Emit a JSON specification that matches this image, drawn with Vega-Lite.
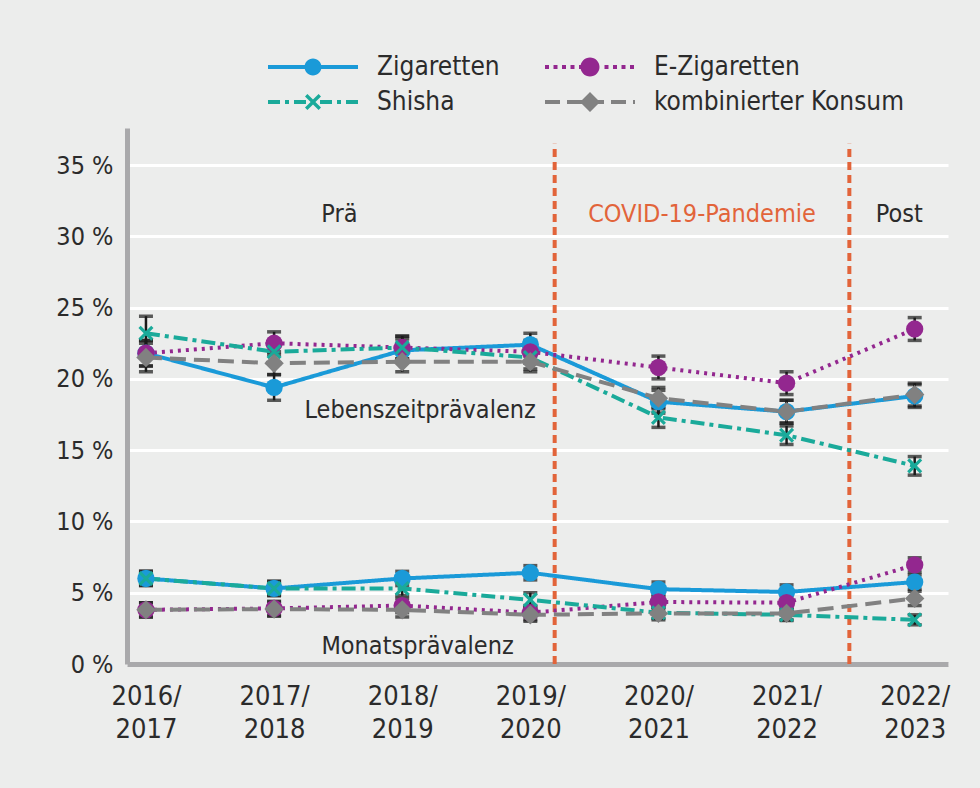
{
  "$schema": "https://vega.github.io/schema/vega-lite/v6.json",
  "width": 821,
  "height": 536,
  "autosize": {"type": "none"},
  "padding": {"left": 127, "top": 128, "right": 32, "bottom": 124},
  "background": "#ecedec",
  "config": {
    "font": "Liberation Sans Narrow, DejaVu Sans Condensed, Roboto, sans-serif",
    "view": {"stroke": null},
    "axis": {"labelColor": "#2b2b2b", "domainColor": "#a9a9ab", "domainWidth": 5, "ticks": false}
  },
  "datasets": {
    "d": [
      {"i": 0, "s": "Zigaretten", "t": "L", "v": 21.8, "lo": 20.9, "hi": 22.7},
      {"i": 1, "s": "Zigaretten", "t": "L", "v": 19.4, "lo": 18.5, "hi": 20.3},
      {"i": 2, "s": "Zigaretten", "t": "L", "v": 22.0, "lo": 21.2, "hi": 22.8},
      {"i": 3, "s": "Zigaretten", "t": "L", "v": 22.4, "lo": 21.6, "hi": 23.2},
      {"i": 4, "s": "Zigaretten", "t": "L", "v": 18.4, "lo": 17.6, "hi": 19.2},
      {"i": 5, "s": "Zigaretten", "t": "L", "v": 17.7, "lo": 16.9, "hi": 18.5},
      {"i": 6, "s": "Zigaretten", "t": "L", "v": 18.8, "lo": 18.0, "hi": 19.6},
      {"i": 0, "s": "E-Zigaretten", "t": "L", "v": 21.8, "lo": 20.9, "hi": 22.7},
      {"i": 1, "s": "E-Zigaretten", "t": "L", "v": 22.5, "lo": 21.7, "hi": 23.3},
      {"i": 2, "s": "E-Zigaretten", "t": "L", "v": 22.2, "lo": 21.4, "hi": 23.0},
      {"i": 3, "s": "E-Zigaretten", "t": "L", "v": 21.9, "lo": 21.1, "hi": 22.7},
      {"i": 4, "s": "E-Zigaretten", "t": "L", "v": 20.8, "lo": 20.0, "hi": 21.6},
      {"i": 5, "s": "E-Zigaretten", "t": "L", "v": 19.7, "lo": 18.9, "hi": 20.5},
      {"i": 6, "s": "E-Zigaretten", "t": "L", "v": 23.5, "lo": 22.7, "hi": 24.3},
      {"i": 0, "s": "Shisha", "t": "L", "v": 23.2, "lo": 22.0, "hi": 24.4},
      {"i": 1, "s": "Shisha", "t": "L", "v": 21.9, "lo": 21.1, "hi": 22.7},
      {"i": 2, "s": "Shisha", "t": "L", "v": 22.2, "lo": 21.4, "hi": 23.0},
      {"i": 3, "s": "Shisha", "t": "L", "v": 21.5, "lo": 20.7, "hi": 22.3},
      {"i": 4, "s": "Shisha", "t": "L", "v": 17.3, "lo": 16.6, "hi": 18.0},
      {"i": 5, "s": "Shisha", "t": "L", "v": 16.05, "lo": 15.4, "hi": 16.7},
      {"i": 6, "s": "Shisha", "t": "L", "v": 13.9, "lo": 13.25, "hi": 14.55},
      {"i": 0, "s": "kombinierter Konsum", "t": "L", "v": 21.5, "lo": 20.5, "hi": 22.5},
      {"i": 1, "s": "kombinierter Konsum", "t": "L", "v": 21.1, "lo": 20.3, "hi": 21.9},
      {"i": 2, "s": "kombinierter Konsum", "t": "L", "v": 21.2, "lo": 20.5, "hi": 21.9},
      {"i": 3, "s": "kombinierter Konsum", "t": "L", "v": 21.2, "lo": 20.5, "hi": 21.9},
      {"i": 4, "s": "kombinierter Konsum", "t": "L", "v": 18.65, "lo": 17.9, "hi": 19.4},
      {"i": 5, "s": "kombinierter Konsum", "t": "L", "v": 17.7, "lo": 16.9, "hi": 18.5},
      {"i": 6, "s": "kombinierter Konsum", "t": "L", "v": 18.9, "lo": 18.1, "hi": 19.7},
      {"i": 0, "s": "Zigaretten", "t": "M", "v": 6.0, "lo": 5.5, "hi": 6.5},
      {"i": 1, "s": "Zigaretten", "t": "M", "v": 5.3, "lo": 4.8, "hi": 5.8},
      {"i": 2, "s": "Zigaretten", "t": "M", "v": 6.0, "lo": 5.5, "hi": 6.5},
      {"i": 3, "s": "Zigaretten", "t": "M", "v": 6.4, "lo": 5.9, "hi": 6.9},
      {"i": 4, "s": "Zigaretten", "t": "M", "v": 5.25, "lo": 4.75, "hi": 5.75},
      {"i": 5, "s": "Zigaretten", "t": "M", "v": 5.05, "lo": 4.55, "hi": 5.55},
      {"i": 6, "s": "Zigaretten", "t": "M", "v": 5.75, "lo": 5.25, "hi": 6.25},
      {"i": 0, "s": "E-Zigaretten", "t": "M", "v": 3.8, "lo": 3.3, "hi": 4.3},
      {"i": 1, "s": "E-Zigaretten", "t": "M", "v": 3.9, "lo": 3.4, "hi": 4.4},
      {"i": 2, "s": "E-Zigaretten", "t": "M", "v": 4.1, "lo": 3.6, "hi": 4.6},
      {"i": 3, "s": "E-Zigaretten", "t": "M", "v": 3.6, "lo": 3.1, "hi": 4.1},
      {"i": 4, "s": "E-Zigaretten", "t": "M", "v": 4.35, "lo": 3.85, "hi": 4.85},
      {"i": 5, "s": "E-Zigaretten", "t": "M", "v": 4.3, "lo": 3.8, "hi": 4.8},
      {"i": 6, "s": "E-Zigaretten", "t": "M", "v": 6.95, "lo": 6.45, "hi": 7.45},
      {"i": 0, "s": "Shisha", "t": "M", "v": 6.0, "lo": 5.5, "hi": 6.5},
      {"i": 1, "s": "Shisha", "t": "M", "v": 5.3, "lo": 4.8, "hi": 5.8},
      {"i": 2, "s": "Shisha", "t": "M", "v": 5.3, "lo": 4.8, "hi": 5.8},
      {"i": 3, "s": "Shisha", "t": "M", "v": 4.5, "lo": 4.0, "hi": 5.0},
      {"i": 4, "s": "Shisha", "t": "M", "v": 3.6, "lo": 3.2, "hi": 4.0},
      {"i": 5, "s": "Shisha", "t": "M", "v": 3.45, "lo": 3.05, "hi": 3.85},
      {"i": 6, "s": "Shisha", "t": "M", "v": 3.1, "lo": 2.75, "hi": 3.45},
      {"i": 0, "s": "kombinierter Konsum", "t": "M", "v": 3.8, "lo": 3.3, "hi": 4.3},
      {"i": 1, "s": "kombinierter Konsum", "t": "M", "v": 3.85, "lo": 3.35, "hi": 4.35},
      {"i": 2, "s": "kombinierter Konsum", "t": "M", "v": 3.8, "lo": 3.3, "hi": 4.3},
      {"i": 3, "s": "kombinierter Konsum", "t": "M", "v": 3.45, "lo": 3.0, "hi": 3.9},
      {"i": 4, "s": "kombinierter Konsum", "t": "M", "v": 3.55, "lo": 3.1, "hi": 4.0},
      {"i": 5, "s": "kombinierter Konsum", "t": "M", "v": 3.55, "lo": 3.1, "hi": 4.0},
      {"i": 6, "s": "kombinierter Konsum", "t": "M", "v": 4.6, "lo": 4.1, "hi": 5.1}
    ],
    "phases": [{"x": 3.19}, {"x": 5.49}],
    "notes": [
      {"lab": "Prä", "x": 1.51, "y": 31.6, "k": "n"},
      {"lab": "COVID-19-Pandemie", "x": 4.34, "y": 31.6, "k": "c"},
      {"lab": "Post", "x": 5.88, "y": 31.6, "k": "n"},
      {"lab": "Lebenszeitprävalenz", "x": 2.14, "y": 17.8, "k": "n"},
      {"lab": "Monatsprävalenz", "x": 2.12, "y": 1.26, "k": "n"}
    ]
  },
  "layer": [
    {
      "data": {"name": "phases"},
      "mark": {"type": "rule", "color": "#e2643a", "strokeWidth": 4, "strokeDash": [8, 5]},
      "encoding": {
        "x": {"field": "x", "type": "quantitative", "scale": {"domain": [-0.148, 6.26], "nice": false, "zero": false},
          "axis": {"values": [0, 1, 2, 3, 4, 5, 6], "title": null, "grid": false, "labelFontSize": 27, "labelLineHeight": 33, "labelPadding": 19, "labelExpr": "[format(2016 + datum.value, 'd') + '/', format(2017 + datum.value, 'd')]"}},
        "y": {"datum": 0, "type": "quantitative", "scale": {"domain": [0, 37.6], "nice": false},
          "axis": {"values": [0, 5, 10, 15, 20, 25, 30, 35], "title": null, "grid": true, "gridColor": "#ffffff", "gridWidth": 3, "labelFontSize": 25, "labelPadding": 14, "labelExpr": "datum.value + ' %'"}},
        "y2": {"datum": 36.5}
      }
    },
    {
      "data": {"name": "d"},
      "transform": [{"filter": "false"}],
      "mark": {"type": "point", "filled": true, "opacity": 1, "size": 400},
      "encoding": {
        "x": {"field": "i", "type": "quantitative"},
        "y": {"field": "v", "type": "quantitative", "title": null},
        "color": {"field": "s", "type": "nominal",
          "scale": {"domain": ["Zigaretten", "E-Zigaretten", "Shisha", "kombinierter Konsum"], "range": ["#1a9ad8", "#93278f", "#1aaa9a", "#818181"]},
          "legend": {"orient": "none", "legendX": 136, "legendY": -74, "columns": 2, "direction": "horizontal", "title": null, "symbolSize": 400, "symbolStrokeWidth": 0, "symbolOpacity": 1, "labelFontSize": 26, "labelLimit": 500, "labelColor": "#2b2b2b", "labelOffset": 88, "columnPadding": 40, "rowPadding": 9}},
        "shape": {"field": "s", "type": "nominal",
          "legend": {"orient": "none", "legendX": 136, "legendY": -74, "columns": 2, "direction": "horizontal", "title": null, "symbolSize": 400, "symbolStrokeWidth": 0, "symbolOpacity": 1, "labelFontSize": 26, "labelLimit": 500, "labelColor": "#2b2b2b", "labelOffset": 88, "columnPadding": 40, "rowPadding": 9},
          "scale": {"domain": ["Zigaretten", "E-Zigaretten", "Shisha", "kombinierter Konsum"], "range": [
            "M-0.8,-0.2H8.2V0.2H-0.8ZM2.85,0A0.85,0.85 0 1,1 4.55,0A0.85,0.85 0 1,1 2.85,0Z",
            "M-0.8,-0.2h0.4v0.4h-0.4ZM0.05,-0.2h0.4v0.4h-0.4ZM0.9,-0.2h0.4v0.4h-0.4ZM1.75,-0.2h0.4v0.4h-0.4ZM2.6,-0.2h0.4v0.4h-0.4ZM5.15,-0.2h0.4v0.4h-0.4ZM6,-0.2h0.4v0.4h-0.4ZM6.85,-0.2h0.4v0.4h-0.4ZM7.7,-0.2h0.4v0.4h-0.4ZM2.75,0A0.95,0.95 0 1,1 4.65,0A0.95,0.95 0 1,1 2.75,0Z",
            "M-0.8,-0.2H0.4V0.2H-0.8ZM0.9,-0.2H1.3V0.2H0.9ZM1.8,-0.2H3V0.2H1.8ZM4.4,-0.2H5.6V0.2H4.4ZM6.1,-0.2H6.5V0.2H6.1ZM7,-0.2H8.2V0.2H7ZM2.9,-0.56L3.14,-0.8L3.7,-0.24L4.26,-0.8L4.5,-0.56L3.94,0L4.5,0.56L4.26,0.8L3.7,0.24L3.14,0.8L2.9,0.56L3.46,0Z",
            "M-0.8,-0.2H0.7V0.2H-0.8ZM1.4,-0.2H2.9V0.2H1.4ZM4.5,-0.2H5.1V0.2H4.5ZM5.8,-0.2H7.3V0.2H5.8ZM8,-0.2H8.2V0.2H8ZM2.7,0L3.7,-1L4.7,0L3.7,1Z"
          ]}}
      }
    },
    {
      "data": {"name": "notes"},
      "transform": [{"filter": "datum.k === 'n'"}],
      "mark": {"type": "text", "fontSize": 25, "color": "#2b2b2b"},
      "encoding": {
        "x": {"field": "x", "type": "quantitative"},
        "y": {"field": "y", "type": "quantitative"},
        "text": {"field": "lab"}
      }
    },
    {
      "data": {"name": "notes"},
      "transform": [{"filter": "datum.k === 'c'"}],
      "mark": {"type": "text", "fontSize": 25, "color": "#e2643a"},
      "encoding": {
        "x": {"field": "x", "type": "quantitative"},
        "y": {"field": "y", "type": "quantitative"},
        "text": {"field": "lab"}
      }
    },
    {
      "data": {"name": "d"},
      "mark": {"type": "errorbar", "ticks": {"size": 14, "thickness": 3.5, "color": "#1a1a1a"}, "rule": {"strokeWidth": 2.5, "color": "#1a1a1a"}},
      "encoding": {
        "x": {"field": "i", "type": "quantitative"},
        "y": {"field": "lo", "type": "quantitative", "title": null},
        "y2": {"field": "hi"},
        "detail": {"field": "s"}
      }
    },
    {
      "data": {"name": "d"},
      "mark": {"type": "line", "strokeWidth": 4, "strokeCap": "butt"},
      "encoding": {
        "x": {"field": "i", "type": "quantitative"},
        "y": {"field": "v", "type": "quantitative", "title": null},
        "detail": {"field": "t"},
        "color": {"field": "s", "type": "nominal"},
        "strokeDash": {"field": "s", "type": "nominal", "legend": null,
          "scale": {"domain": ["Zigaretten", "E-Zigaretten", "Shisha", "kombinierter Konsum"], "range": [[1, 0], [3, 5], [14, 5, 4, 5], [16, 8]]}}
      }
    },
    {
      "data": {"name": "d"},
      "transform": [{"filter": "datum.s === 'Zigaretten' || datum.s === 'E-Zigaretten'"}],
      "mark": {"type": "point", "filled": true, "opacity": 1, "size": 300, "shape": "circle"},
      "encoding": {
        "x": {"field": "i", "type": "quantitative"},
        "y": {"field": "v", "type": "quantitative", "title": null},
        "color": {"field": "s", "type": "nominal"}
      }
    },
    {
      "data": {"name": "d"},
      "transform": [{"filter": "datum.s === 'Shisha'"}],
      "mark": {"type": "point", "filled": true, "opacity": 1, "size": 300, "shape": "M-0.87,-0.61L-0.61,-0.87L0,-0.26L0.61,-0.87L0.87,-0.61L0.26,0L0.87,0.61L0.61,0.87L0,0.26L-0.61,0.87L-0.87,0.61L-0.26,0Z"},
      "encoding": {
        "x": {"field": "i", "type": "quantitative"},
        "y": {"field": "v", "type": "quantitative", "title": null},
        "color": {"field": "s", "type": "nominal"}
      }
    },
    {
      "data": {"name": "d"},
      "transform": [{"filter": "datum.s === 'kombinierter Konsum'"}],
      "mark": {"type": "point", "filled": true, "opacity": 1, "size": 300, "shape": "M-1.12,0L0,-1.12L1.12,0L0,1.12Z"},
      "encoding": {
        "x": {"field": "i", "type": "quantitative"},
        "y": {"field": "v", "type": "quantitative", "title": null},
        "color": {"field": "s", "type": "nominal"}
      }
    }
  ]
}
